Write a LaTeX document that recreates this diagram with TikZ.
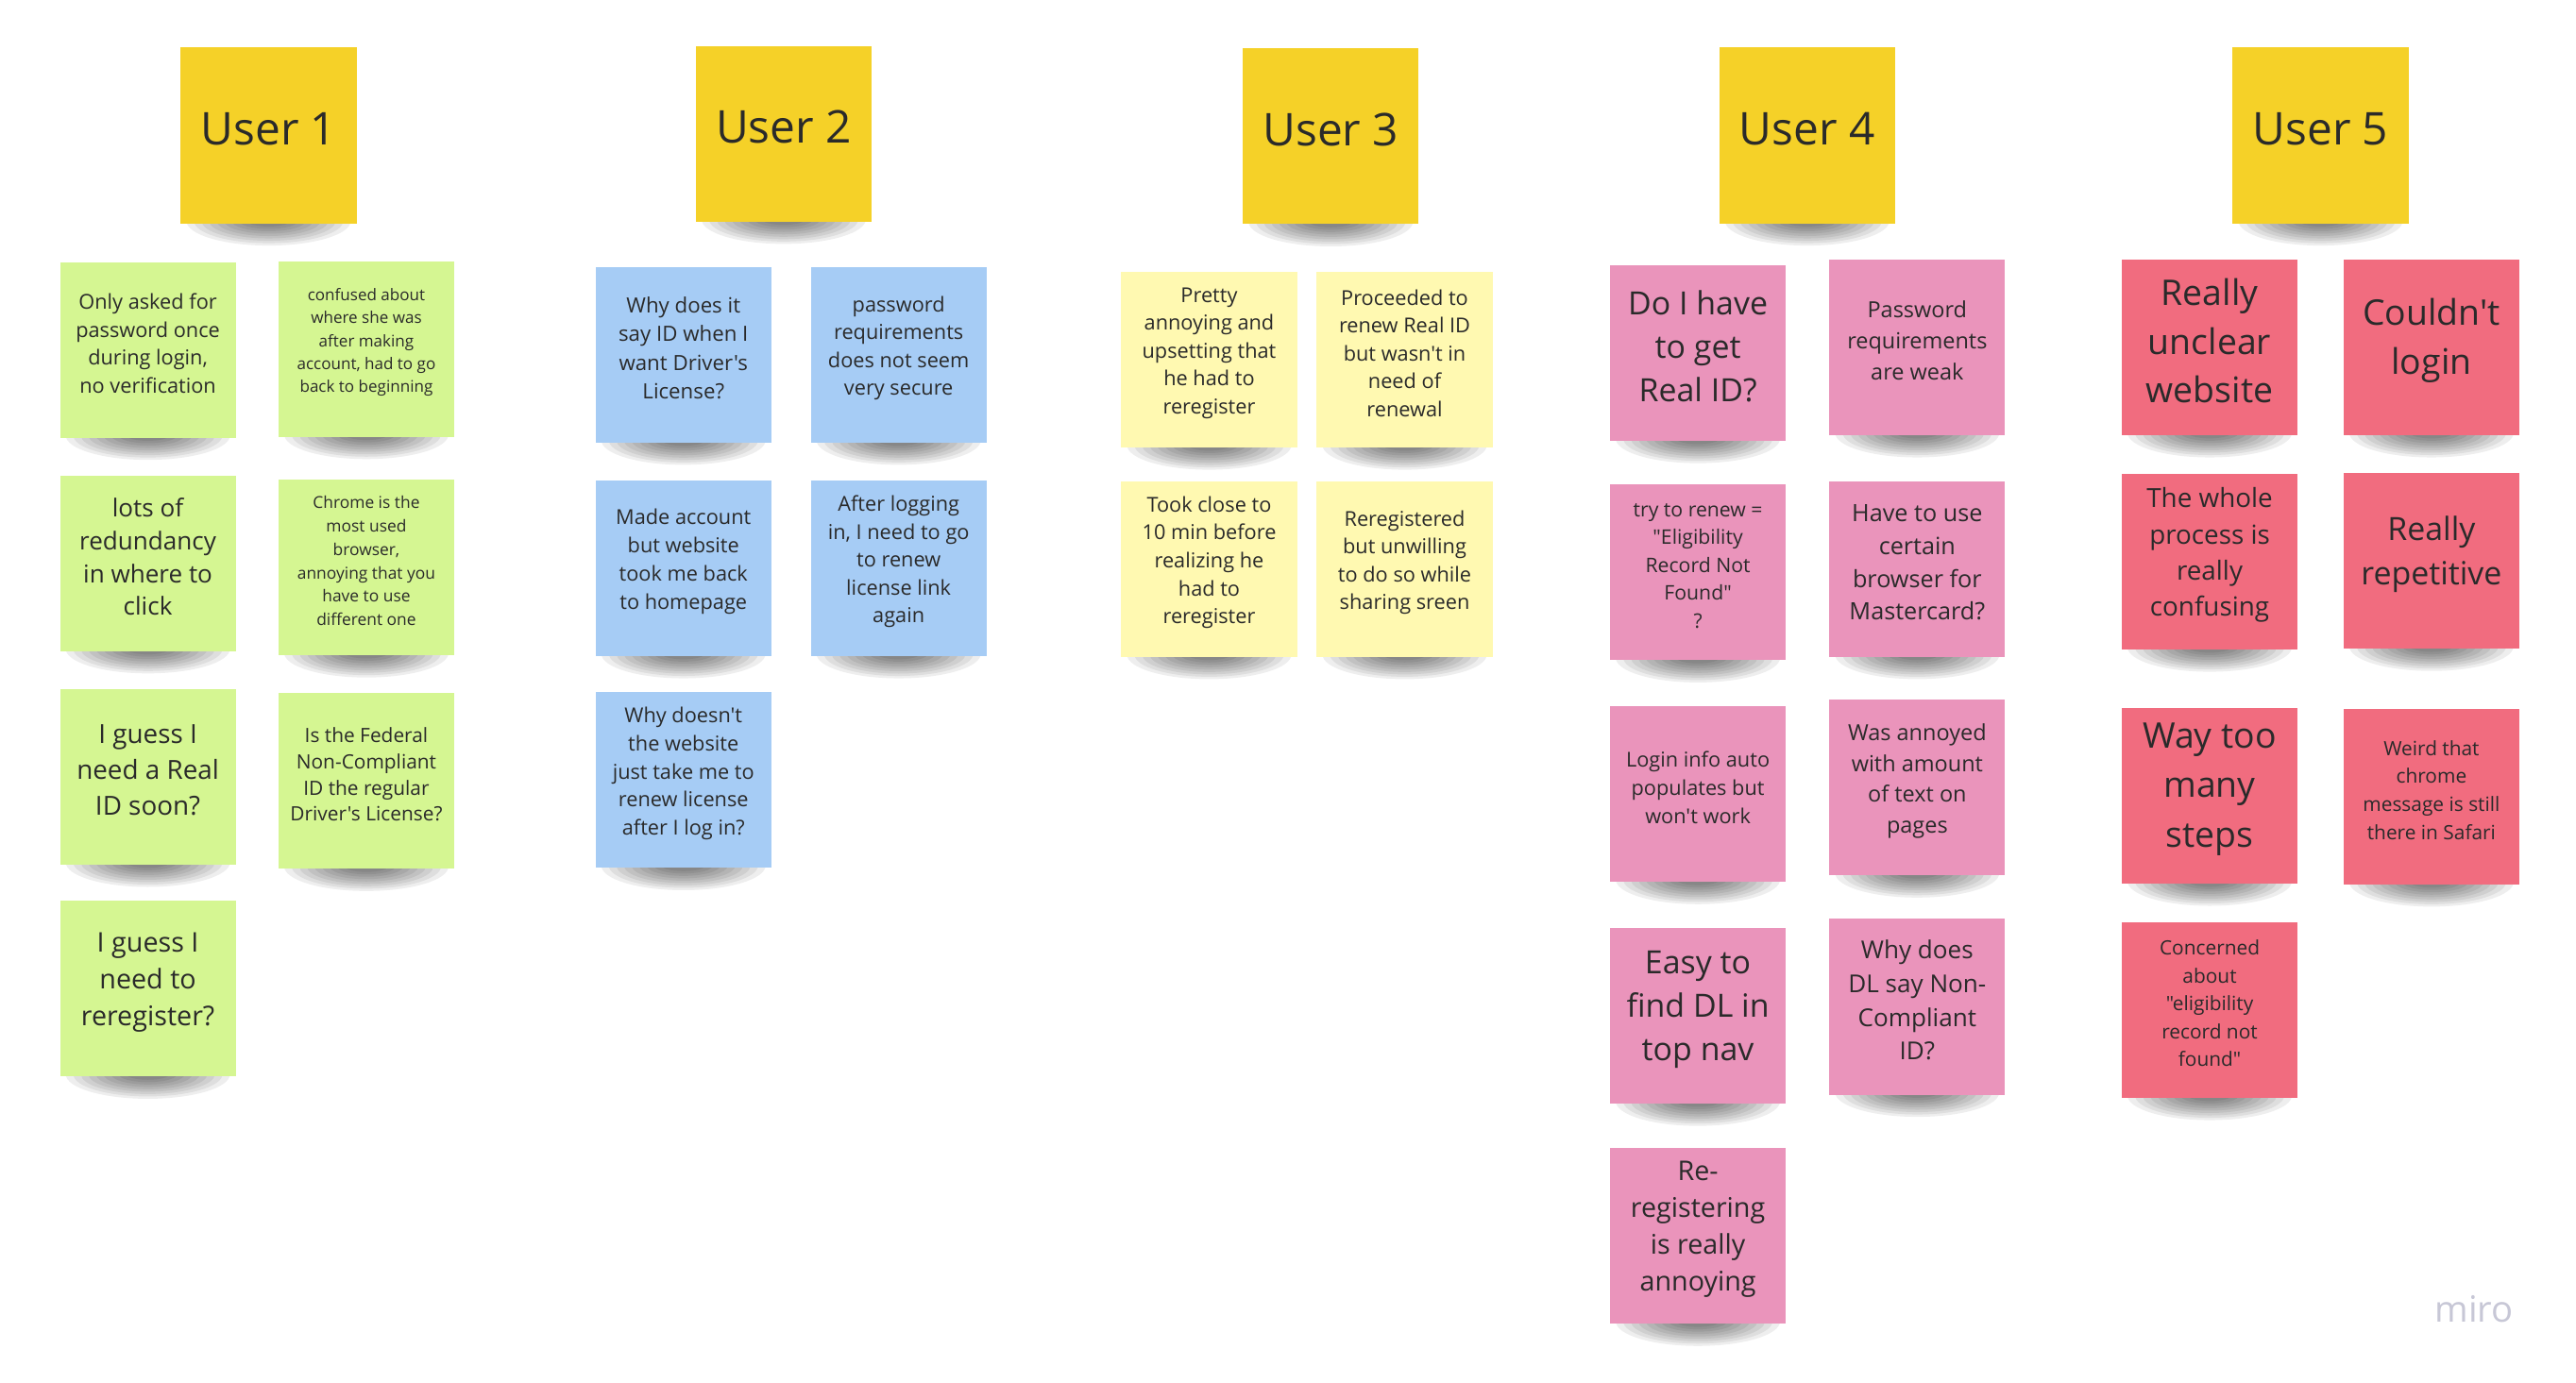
\documentclass[tikz,border=0pt]{standalone}
\usepackage{fontspec}
\newfontfamily\osans{Open Sans}
\definecolor{hdr}{HTML}{F5D128}
\definecolor{grn}{HTML}{D5F692}
\definecolor{blu}{HTML}{A6CCF5}
\definecolor{lyl}{HTML}{FFF9B1}
\definecolor{pnk}{HTML}{EA94BB}
\definecolor{rdn}{HTML}{F16C7F}
\definecolor{txt}{HTML}{2A2A2A}
\definecolor{mirogray}{HTML}{C7C7D6}
\newcommand\fsz[2]{\fontsize{\fpeval{#1*0.569}pt}{\fpeval{#2*0.569}pt}\selectfont}
\newcommand\stickyshadow[2]{%
  \foreach \k in {0,...,8} {
    \fill[stkshadow] ({#1},{#2+52}) ellipse [x radius={50-4.6*\k}, y radius={15-1.45*\k}];
  }%
}
\newcommand\stickynote[7]{%
  \stickyshadow{#2}{#3}%
  \node[stk,fill=#4] (#1) at (#2,#3) {};
  \node[stktext,font={\osans\fsz{#5}{#6}}] (#1t) at ({#2},{#3-4}) {#7};
}
\begin{document}
\begin{tikzpicture}[x=0.02cm,y=-0.02cm,
  stk/.style={rectangle, minimum width=2.14cm, minimum height=2.14cm, inner sep=0pt},
  stktext/.style={inner sep=0pt, align=center, text=txt},
  stkshadow/.style={black, fill opacity=0.065},
  logo/.style={font={\osans\fsz{22}{26}}, text=mirogray}]
\fill[white] (0,0) rectangle (1568,842);
\useasboundingbox (0,0) rectangle (1568,842);

% headers
\stickynote{h1}{163.5}{82.5}{hdr}{27.5}{34}{User 1}
\stickynote{h2}{477}{81.5}{hdr}{27.5}{34}{User 2}
\stickynote{h3}{810}{83}{hdr}{27.5}{34}{User 3}
\stickynote{h4}{1100}{82.5}{hdr}{27.5}{34}{User 4}
\stickynote{h5}{1412.5}{82.5}{hdr}{27.5}{34}{User 5}

% User 1
\stickynote{n11}{90}{213}{grn}{12.5}{17}{Only asked for\\password once\\during login,\\no verification}
\stickynote{n12}{223}{212.5}{grn}{9.8}{14}{confused about\\where she was\\after making\\account, had to go\\back to beginning}
\stickynote{n13}{90}{343}{grn}{15}{20}{lots of\\redundancy\\in where to\\click}
\stickynote{n14}{223}{345.5}{grn}{10}{14.2}{Chrome is the\\most used\\browser,\\annoying that you\\have to use\\different one}
\stickynote{n15}{90}{473}{grn}{16}{22}{I guess I\\need a Real\\ID soon?}
\stickynote{n16}{223}{475.5}{grn}{12}{16}{Is the Federal\\Non-Compliant\\ID the regular\\Driver's License?}
\stickynote{n17}{90}{602}{grn}{16.5}{22.5}{I guess I\\need to\\reregister?}

% User 2
\stickynote{n21}{416}{216}{blu}{12.8}{17.5}{Why does it\\say ID when I\\want Driver's\\License?}
\stickynote{n22}{547}{216}{blu}{12.5}{17}{password\\requirements\\does not seem\\very secure}
\stickynote{n23}{416}{346}{blu}{12.5}{17.3}{Made account\\but website\\took me back\\to homepage}
\stickynote{n24}{547}{346}{blu}{12.5}{17}{After logging\\in, I need to go\\to renew\\license link\\again}
\stickynote{n25}{416}{475}{blu}{12.5}{17}{Why doesn't\\the website\\just take me to\\renew license\\after I log in?}

% User 3
\stickynote{n31}{736}{219}{lyl}{12.5}{17}{Pretty\\annoying and\\upsetting that\\he had to\\reregister}
\stickynote{n32}{855}{219}{lyl}{12.5}{17}{Proceeded to\\renew Real ID\\but wasn't in\\need of\\renewal}
\stickynote{n33}{736}{346.5}{lyl}{12.5}{17}{Took close to\\10 min before\\realizing he\\had to\\reregister}
\stickynote{n34}{855}{346.5}{lyl}{12.5}{17}{Reregistered\\but unwilling\\to do so while\\sharing sreen}

% User 4
\stickynote{n41}{1033.5}{215}{pnk}{19.5}{26.5}{Do I have\\to get\\Real ID?}
\stickynote{n42}{1167}{211.5}{pnk}{13.5}{19}{Password\\requirements\\are weak}
\stickynote{n43}{1033.5}{348.5}{pnk}{12.2}{17}{try to renew =\\"Eligibility\\Record Not\\Found"\\?}
\stickynote{n44}{1167}{346.5}{pnk}{14.5}{20}{Have to use\\certain\\browser for\\Mastercard?}
\stickynote{n45}{1033.5}{483.5}{pnk}{12.5}{17}{Login info auto\\populates but\\won't work}
\stickynote{n46}{1167}{479.5}{pnk}{13.5}{18.7}{Was annoyed\\with amount\\of text on\\pages}
\stickynote{n47}{1033.5}{618.5}{pnk}{19.5}{26.5}{Easy to\\find DL in\\top nav}
\stickynote{n48}{1167}{613}{pnk}{15}{20.5}{Why does\\DL say Non-\\Compliant\\ID?}
\stickynote{n49}{1033.5}{752.5}{pnk}{16.5}{22.3}{Re-\\registering\\is really\\annoying}

% User 5
\stickynote{n51}{1345}{211.5}{rdn}{21.5}{29.5}{Really\\unclear\\website}
\stickynote{n52}{1480}{211.5}{rdn}{21.5}{30}{Couldn't\\login}
\stickynote{n53}{1345}{342}{rdn}{16}{22}{The whole\\process is\\really\\confusing}
\stickynote{n54}{1480}{341.5}{rdn}{19.5}{27}{Really\\repetitive}
\stickynote{n55}{1345}{484.5}{rdn}{21.5}{30}{Way too\\many\\steps}
\stickynote{n56}{1480}{485}{rdn}{12}{17}{Weird that\\chrome\\message is still\\there in Safari}
\stickynote{n57}{1345}{615}{rdn}{12}{17}{Concerned\\about\\"eligibility\\record not\\found"}

\node[logo] (miro) at (1506,797) {miro};
\end{tikzpicture}
\end{document}
